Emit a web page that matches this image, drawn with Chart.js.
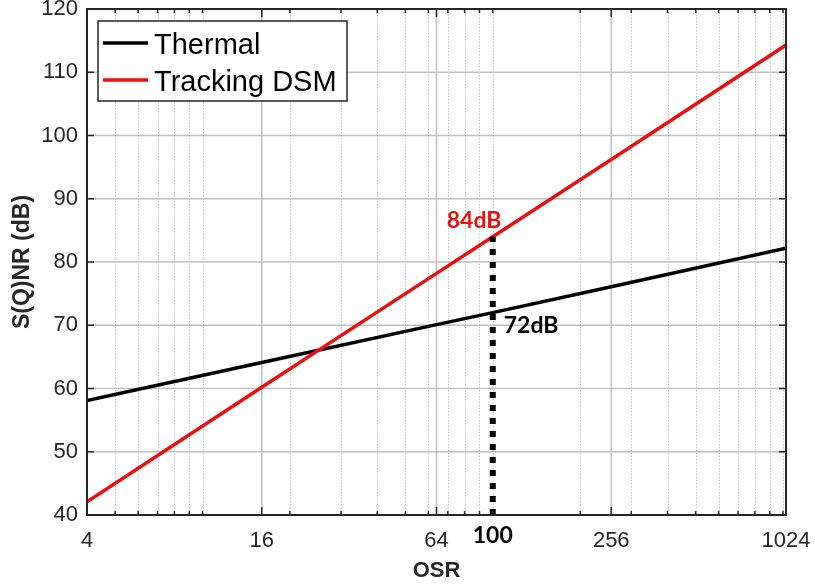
<!DOCTYPE html>
<html>
<head>
<meta charset="utf-8">
<script src="https://cdn.jsdelivr.net/npm/chart.js@4.4.1/dist/chart.umd.min.js"></script>
<style>
  html, body { margin: 0; background: #fff; }
</style>
</head>
<body>
<canvas id="osrChart" width="815" height="588"></canvas>
<script>
// values
const osr = [4, 16, 64, 100, 256, 1024];
const thermal = [58.1, 64.1, 70.1, 72.0, 76.1, 82.2];
const trackingDsm = [42.1, 60.2, 78.2, 84.0, 96.2, 114.3];

// x grid / tick layout (log axis)
const majorTicks = [4, 16, 64, 256, 1024];
const minorTicks = [5, 6, 7, 8, 9, 10, 20, 30, 40, 50, 60, 70, 80, 90, 100,
  200, 300, 400, 500, 600, 700, 800, 900, 1000];
const yTicks = [40, 50, 60, 70, 80, 90, 100, 110, 120];

// highlighted operating point
const markerOsr = 100;
const markerThermal = 72;
const markerDsm = 84;

const axisColor = '#262626';
const redColor = 'rgb(232,16,16)';

function pts(xs, ys) {
  return xs.map((v, i) => ({ x: v, y: ys[i] }));
}

// labels at the edges must not push the axes box around
function noEdgePadding(scale) {
  scale.paddingTop = 0;
  scale.paddingBottom = 0;
  scale.paddingLeft = 0;
  scale.paddingRight = 0;
}

// grid, box, inward ticks, text labels and legend
const framePlugin = {
  id: 'frame',
  beforeDatasetsDraw(chart) {
    const { ctx, chartArea: a, scales: { x, y } } = chart;
    ctx.save();
    ctx.lineWidth = 1;
    ctx.strokeStyle = '#c4c4c4';
    ctx.setLineDash([1.5, 1.5]);
    minorTicks.forEach(v => {
      const px = Math.round(x.getPixelForValue(v)) + 0.5;
      ctx.beginPath(); ctx.moveTo(px, a.top); ctx.lineTo(px, a.bottom); ctx.stroke();
    });
    ctx.setLineDash([]);
    ctx.lineWidth = 1.5;
    ctx.strokeStyle = '#c0c0c0';
    majorTicks.forEach(v => {
      const px = x.getPixelForValue(v);
      ctx.beginPath(); ctx.moveTo(px, a.top); ctx.lineTo(px, a.bottom); ctx.stroke();
    });
    yTicks.forEach(v => {
      const py = y.getPixelForValue(v);
      ctx.beginPath(); ctx.moveTo(a.left, py); ctx.lineTo(a.right, py); ctx.stroke();
    });
    ctx.restore();
  },
  afterDatasetsDraw(chart) {
    const { ctx, chartArea: a, scales: { x, y } } = chart;
    ctx.save();
    ctx.strokeStyle = axisColor;
    ctx.lineWidth = 1.5;
    // inward ticks
    const tick = (v, len) => {
      const px = x.getPixelForValue(v);
      ctx.beginPath();
      ctx.moveTo(px, a.bottom); ctx.lineTo(px, a.bottom - len);
      ctx.moveTo(px, a.top); ctx.lineTo(px, a.top + len);
      ctx.stroke();
    };
    majorTicks.forEach(v => tick(v, 8));
    minorTicks.forEach(v => tick(v, 4));
    yTicks.forEach(v => {
      const py = y.getPixelForValue(v);
      ctx.beginPath();
      ctx.moveTo(a.left, py); ctx.lineTo(a.left + 7, py);
      ctx.moveTo(a.right, py); ctx.lineTo(a.right - 7, py);
      ctx.stroke();
    });
    // box
    ctx.lineWidth = 2;
    ctx.strokeRect(a.left, a.top, a.right - a.left, a.bottom - a.top);

    // point annotations
    const mx = x.getPixelForValue(markerOsr);
    ctx.font = 'bold 23px Lato, "Open Sans", sans-serif';
    ctx.textBaseline = 'alphabetic';
    ctx.textAlign = 'left';
    ctx.fillStyle = redColor;
    ctx.fillText(markerDsm + 'dB', mx - 46, y.getPixelForValue(markerDsm) - 9);
    ctx.fillStyle = '#000';
    ctx.fillText(markerThermal + 'dB', mx + 11, y.getPixelForValue(markerThermal) + 20);

    // bold "100" tick label under the marker, set a bit higher than the others
    ctx.textAlign = 'center';
    ctx.fillText(String(markerOsr), mx, a.bottom + 28);

    // legend inside the axes
    const items = chart.data.datasets.filter(d => d.label);
    const lx = a.left + 11, ly = a.top + 12;
    ctx.textAlign = 'left';
    ctx.fillStyle = '#fff';
    ctx.fillRect(lx, ly, 249, 80);
    ctx.lineWidth = 1.5;
    ctx.strokeStyle = axisColor;
    ctx.strokeRect(lx, ly, 249, 80);
    ctx.font = '29px "Liberation Sans", Arial, sans-serif';
    items.forEach((d, i) => {
      const rowY = ly + 22 + i * 37;
      ctx.strokeStyle = d.borderColor;
      ctx.lineWidth = 3.5;
      ctx.beginPath(); ctx.moveTo(lx + 5, rowY); ctx.lineTo(lx + 50, rowY); ctx.stroke();
      ctx.fillStyle = '#000';
      ctx.fillText(d.label, lx + 56, rowY + 11);
    });
    ctx.restore();
  }
};

new Chart(document.getElementById('osrChart'), {
  type: 'line',
  data: {
    datasets: [
      {
        label: 'Thermal',
        data: pts(osr, thermal),
        borderColor: '#000',
        borderWidth: 3.5,
        pointRadius: 0,
        order: 2
      },
      {
        label: 'Tracking DSM',
        data: pts(osr, trackingDsm),
        borderColor: redColor,
        borderWidth: 3.5,
        pointRadius: 0,
        order: 1
      },
      {
        data: [{ x: markerOsr, y: yTicks[0] }, { x: markerOsr, y: markerDsm }],
        borderColor: '#000',
        borderWidth: 6,
        borderDash: [6, 7],
        borderCapStyle: 'butt',
        pointRadius: 0,
        order: 0
      }
    ]
  },
  plugins: [framePlugin],
  options: {
    responsive: false,
    animation: false,
    devicePixelRatio: 1,
    layout: { padding: { left: 0, right: 29, top: 9, bottom: 0 } },
    plugins: {
      legend: { display: false },
      tooltip: { enabled: false }
    },
    scales: {
      x: {
        type: 'logarithmic',
        min: 4,
        max: 1024,
        afterBuildTicks: scale => {
          scale.ticks = [...majorTicks, ...minorTicks]
            .sort((p, q) => p - q)
            .map(v => ({ value: v, major: majorTicks.includes(v) }));
        },
        afterFit: scale => { scale.height = 73; noEdgePadding(scale); },
        grid: { display: false, drawTicks: false },
        border: { display: false },
        ticks: {
          autoSkip: false,
          maxRotation: 0,
          padding: 13,
          color: axisColor,
          font: { family: '"Liberation Sans", Arial, sans-serif', size: 22 },
          callback: v => (majorTicks.includes(v) ? String(v) : '')
        },
        title: {
          display: true,
          text: 'OSR',
          color: axisColor,
          font: { family: '"Liberation Sans", Arial, sans-serif', size: 22, weight: 'bold' },
          padding: { top: 0, bottom: 4 }
        }
      },
      y: {
        min: 40,
        max: 120,
        afterBuildTicks: scale => { scale.ticks = yTicks.map(v => ({ value: v })); },
        afterFit: scale => { scale.width = 87; noEdgePadding(scale); },
        grid: { display: false, drawTicks: false },
        border: { display: false },
        ticks: {
          padding: 9,
          color: axisColor,
          font: { family: '"Liberation Sans", Arial, sans-serif', size: 22 }
        },
        title: {
          display: true,
          text: 'S(Q)NR (dB)',
          color: axisColor,
          font: { family: '"Liberation Sans", Arial, sans-serif', size: 23, weight: 'bold' },
          padding: { top: 9, bottom: 0 }
        }
      }
    }
  }
});
</script>
</body>
</html>
